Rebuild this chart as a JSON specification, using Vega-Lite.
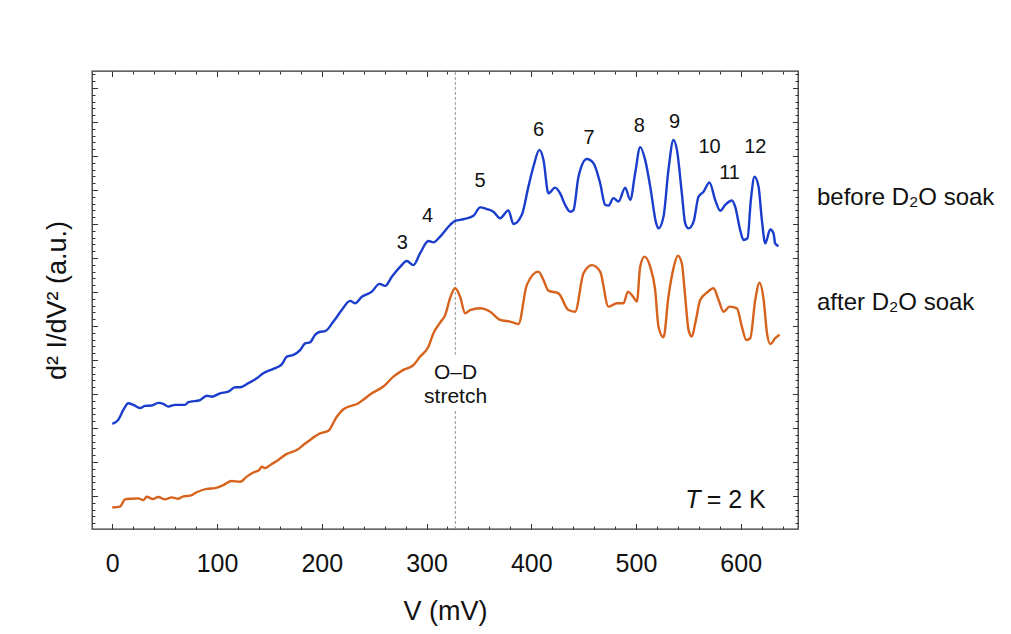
{
  "$schema": "https://vega.github.io/schema/vega-lite/v6.json",
  "width": 706,
  "height": 458,
  "autosize": "none",
  "padding": {"left": 92, "top": 71, "right": 213, "bottom": 105},
  "background": "white",
  "config": {
    "view": {"stroke": "#333", "strokeWidth": 1.3},
    "font": "Liberation Sans",
    "axis": {"grid": false, "domain": false, "tickColor": "#333", "tickWidth": 1, "labelFont": "Liberation Sans", "titleFont": "Liberation Sans", "labelColor": "#111", "titleColor": "#111", "titleFontWeight": "normal"}
  },
  "datasets": {
    "curves": [
      {"v":0,"s":3.12,"k":"before"},{"v":5.7,"s":3.24,"k":"before"},{"v":10.5,"s":3.53,"k":"before"},{"v":15.3,"s":3.73,"k":"before"},{"v":20.1,"s":3.68,"k":"before"},{"v":26.5,"s":3.59,"k":"before"},{"v":31.3,"s":3.65,"k":"before"},{"v":37.6,"s":3.66,"k":"before"},{"v":43.9,"s":3.74,"k":"before"},{"v":48.7,"s":3.71,"k":"before"},{"v":53.5,"s":3.63,"k":"before"},{"v":59.9,"s":3.68,"k":"before"},{"v":69.4,"s":3.68,"k":"before"},{"v":72.6,"s":3.76,"k":"before"},{"v":83.8,"s":3.82,"k":"before"},{"v":90.2,"s":3.95,"k":"before"},{"v":94.9,"s":3.92,"k":"before"},{"v":102.9,"s":4.02,"k":"before"},{"v":110.8,"s":4.07,"k":"before"},{"v":117.2,"s":4.2,"k":"before"},{"v":122.0,"s":4.2,"k":"before"},{"v":129.9,"s":4.32,"k":"before"},{"v":137.9,"s":4.46,"k":"before"},{"v":144.2,"s":4.61,"k":"before"},{"v":153.8,"s":4.74,"k":"before"},{"v":161.8,"s":4.87,"k":"before"},{"v":166.6,"s":5.10,"k":"before"},{"v":172.9,"s":5.15,"k":"before"},{"v":179.3,"s":5.29,"k":"before"},{"v":184.1,"s":5.49,"k":"before"},{"v":188.8,"s":5.52,"k":"before"},{"v":193.6,"s":5.74,"k":"before"},{"v":198.4,"s":5.83,"k":"before"},{"v":203.2,"s":5.85,"k":"before"},{"v":211.1,"s":6.13,"k":"before"},{"v":219.1,"s":6.47,"k":"before"},{"v":227.0,"s":6.74,"k":"before"},{"v":231.8,"s":6.67,"k":"before"},{"v":238.2,"s":6.86,"k":"before"},{"v":247.8,"s":7.01,"k":"before"},{"v":255.0,"s":7.24,"k":"before"},{"v":260.5,"s":7.18,"k":"before"},{"v":266.9,"s":7.45,"k":"before"},{"v":274.8,"s":7.74,"k":"before"},{"v":281.2,"s":7.91,"k":"before"},{"v":287.5,"s":7.79,"k":"before"},{"v":293.9,"s":8.14,"k":"before"},{"v":301.8,"s":8.50,"k":"before"},{"v":306.6,"s":8.46,"k":"before"},{"v":313.0,"s":8.63,"k":"before"},{"v":320.9,"s":8.92,"k":"before"},{"v":327.3,"s":9.09,"k":"before"},{"v":335.2,"s":9.14,"k":"before"},{"v":344.8,"s":9.24,"k":"before"},{"v":351.2,"s":9.49,"k":"before"},{"v":357.6,"s":9.44,"k":"before"},{"v":363.9,"s":9.36,"k":"before"},{"v":370.3,"s":9.17,"k":"before"},{"v":378.2,"s":9.40,"k":"before"},{"v":383.0,"s":9.00,"k":"before"},{"v":391.0,"s":9.27,"k":"before"},{"v":397.3,"s":10.10,"k":"before"},{"v":402.1,"s":10.69,"k":"before"},{"v":407.8,"s":11.18,"k":"before"},{"v":411.7,"s":10.88,"k":"before"},{"v":416.4,"s":9.90,"k":"before"},{"v":422.8,"s":10.07,"k":"before"},{"v":427.6,"s":9.90,"k":"before"},{"v":432.4,"s":9.56,"k":"before"},{"v":437.2,"s":9.36,"k":"before"},{"v":440.3,"s":9.41,"k":"before"},{"v":445.1,"s":10.39,"k":"before"},{"v":453.1,"s":10.91,"k":"before"},{"v":459.4,"s":10.79,"k":"before"},{"v":465.8,"s":10.20,"k":"before"},{"v":470.6,"s":9.56,"k":"before"},{"v":473.7,"s":9.54,"k":"before"},{"v":478.5,"s":9.76,"k":"before"},{"v":483.3,"s":9.66,"k":"before"},{"v":489.7,"s":10.07,"k":"before"},{"v":494.5,"s":9.71,"k":"before"},{"v":499.2,"s":10.49,"k":"before"},{"v":504.0,"s":11.26,"k":"before"},{"v":508.8,"s":10.88,"k":"before"},{"v":513.6,"s":10.10,"k":"before"},{"v":519.3,"s":9.02,"k":"before"},{"v":521.5,"s":8.87,"k":"before"},{"v":526.3,"s":9.22,"k":"before"},{"v":531.0,"s":10.59,"k":"before"},{"v":535.8,"s":11.47,"k":"before"},{"v":539.1,"s":11.18,"k":"before"},{"v":543.8,"s":9.90,"k":"before"},{"v":547.0,"s":9.02,"k":"before"},{"v":550.2,"s":8.87,"k":"before"},{"v":555.0,"s":9.07,"k":"before"},{"v":559.7,"s":9.80,"k":"before"},{"v":564.5,"s":9.95,"k":"before"},{"v":570.2,"s":10.22,"k":"before"},{"v":575.6,"s":9.71,"k":"before"},{"v":580.4,"s":9.39,"k":"before"},{"v":585.2,"s":9.56,"k":"before"},{"v":591.6,"s":9.69,"k":"before"},{"v":594.7,"s":9.51,"k":"before"},{"v":599.5,"s":8.82,"k":"before"},{"v":602.7,"s":8.53,"k":"before"},{"v":606.5,"s":8.58,"k":"before"},{"v":609.7,"s":9.71,"k":"before"},{"v":613.2,"s":10.39,"k":"before"},{"v":617.0,"s":10.10,"k":"before"},{"v":620.2,"s":9.12,"k":"before"},{"v":623.4,"s":8.43,"k":"before"},{"v":628.2,"s":8.84,"k":"before"},{"v":631.3,"s":8.73,"k":"before"},{"v":632.9,"s":8.43,"k":"before"},{"v":636.1,"s":8.35,"k":"before"},
      {"v":0,"s":0.66,"k":"after"},{"v":7.4,"s":0.69,"k":"after"},{"v":12.1,"s":0.90,"k":"after"},{"v":18.5,"s":0.92,"k":"after"},{"v":24.8,"s":0.93,"k":"after"},{"v":29.6,"s":0.88,"k":"after"},{"v":32.9,"s":0.98,"k":"after"},{"v":38.6,"s":0.91,"k":"after"},{"v":43.9,"s":0.97,"k":"after"},{"v":50.3,"s":0.90,"k":"after"},{"v":56.7,"s":0.96,"k":"after"},{"v":63.0,"s":0.92,"k":"after"},{"v":67.8,"s":0.99,"k":"after"},{"v":74.2,"s":1.01,"k":"after"},{"v":80.6,"s":1.11,"k":"after"},{"v":90.2,"s":1.21,"k":"after"},{"v":98.1,"s":1.23,"k":"after"},{"v":106.0,"s":1.32,"k":"after"},{"v":114.0,"s":1.44,"k":"after"},{"v":122.0,"s":1.42,"k":"after"},{"v":128.4,"s":1.57,"k":"after"},{"v":134.7,"s":1.69,"k":"after"},{"v":140.4,"s":1.77,"k":"after"},{"v":142.7,"s":1.86,"k":"after"},{"v":145.8,"s":1.82,"k":"after"},{"v":152.2,"s":1.94,"k":"after"},{"v":158.5,"s":2.06,"k":"after"},{"v":166.6,"s":2.24,"k":"after"},{"v":176.1,"s":2.35,"k":"after"},{"v":182.4,"s":2.50,"k":"after"},{"v":188.8,"s":2.65,"k":"after"},{"v":198.4,"s":2.84,"k":"after"},{"v":206.3,"s":2.92,"k":"after"},{"v":214.3,"s":3.33,"k":"after"},{"v":220.6,"s":3.55,"k":"after"},{"v":235.0,"s":3.73,"k":"after"},{"v":247.8,"s":4.02,"k":"after"},{"v":258.8,"s":4.22,"k":"after"},{"v":268.4,"s":4.51,"k":"after"},{"v":277.9,"s":4.71,"k":"after"},{"v":287.5,"s":4.85,"k":"after"},{"v":293.9,"s":5.10,"k":"after"},{"v":301.8,"s":5.39,"k":"after"},{"v":306.6,"s":5.79,"k":"after"},{"v":313.0,"s":6.10,"k":"after"},{"v":317.8,"s":6.32,"k":"after"},{"v":322.5,"s":6.82,"k":"after"},{"v":327.3,"s":7.11,"k":"after"},{"v":332.1,"s":6.86,"k":"after"},{"v":336.9,"s":6.37,"k":"after"},{"v":341.6,"s":6.47,"k":"after"},{"v":351.2,"s":6.52,"k":"after"},{"v":360.8,"s":6.42,"k":"after"},{"v":370.3,"s":6.18,"k":"after"},{"v":379.8,"s":6.13,"k":"after"},{"v":387.8,"s":6.06,"k":"after"},{"v":395.8,"s":7.21,"k":"after"},{"v":406.9,"s":7.60,"k":"after"},{"v":411.7,"s":7.35,"k":"after"},{"v":416.4,"s":7.04,"k":"after"},{"v":426.0,"s":6.96,"k":"after"},{"v":435.5,"s":6.47,"k":"after"},{"v":441.9,"s":6.42,"k":"after"},{"v":449.9,"s":7.55,"k":"after"},{"v":457.9,"s":7.79,"k":"after"},{"v":465.8,"s":7.60,"k":"after"},{"v":473.7,"s":6.57,"k":"after"},{"v":481.8,"s":6.67,"k":"after"},{"v":488.1,"s":6.67,"k":"after"},{"v":492.3,"s":7.01,"k":"after"},{"v":496.1,"s":6.91,"k":"after"},{"v":500.9,"s":6.72,"k":"after"},{"v":504.0,"s":7.74,"k":"after"},{"v":508.1,"s":8.04,"k":"after"},{"v":513.6,"s":7.74,"k":"after"},{"v":518.3,"s":7.06,"k":"after"},{"v":521.5,"s":5.98,"k":"after"},{"v":526.3,"s":5.67,"k":"after"},{"v":531.0,"s":6.86,"k":"after"},{"v":535.8,"s":7.70,"k":"after"},{"v":540.0,"s":8.07,"k":"after"},{"v":543.8,"s":7.84,"k":"after"},{"v":547.0,"s":6.86,"k":"after"},{"v":550.2,"s":5.88,"k":"after"},{"v":553.4,"s":5.69,"k":"after"},{"v":556.6,"s":6.08,"k":"after"},{"v":561.4,"s":6.77,"k":"after"},{"v":567.7,"s":6.98,"k":"after"},{"v":574.1,"s":7.11,"k":"after"},{"v":578.8,"s":6.77,"k":"after"},{"v":583.6,"s":6.42,"k":"after"},{"v":589.3,"s":6.57,"k":"after"},{"v":596.4,"s":6.52,"k":"after"},{"v":601.1,"s":5.98,"k":"after"},{"v":605.3,"s":5.59,"k":"after"},{"v":609.1,"s":5.64,"k":"after"},{"v":613.9,"s":6.77,"k":"after"},{"v":618.0,"s":7.27,"k":"after"},{"v":621.9,"s":6.77,"k":"after"},{"v":625.1,"s":5.79,"k":"after"},{"v":628.2,"s":5.47,"k":"after"},{"v":633.0,"s":5.64,"k":"after"},{"v":637.1,"s":5.74,"k":"after"}
    ],
    "marker": [
      {"v": 327.5, "a": 5.15, "b": 13.5},
      {"v": 327.5, "a": 0.03, "b": 3.5}
    ],
    "peaks": [
      {"v":277.0,"s":8.43,"t":"3"},{"v":300.9,"s":9.24,"t":"4"},{"v":351.2,"s":10.27,"t":"5"},{"v":406.9,"s":11.76,"t":"6"},{"v":455.3,"s":11.54,"t":"7"},{"v":503.3,"s":11.88,"t":"8"},{"v":536.8,"s":12.01,"t":"9"},{"v":570.2,"s":11.26,"t":"10"},{"v":589.3,"s":10.49,"t":"11"},{"v":613.9,"s":11.26,"t":"12"}
    ],
    "od": [
      {"v":327.8,"s":4.61,"t":"O–D"},{"v":327.8,"s":3.92,"t":"stretch"}
    ],
    "series": [
      {"v":672.8,"s":9.56,"t":"before D₂O soak"},{"v":672.8,"s":6.47,"t":"after D₂O soak"}
    ],
    "temp": [
      {"v":547.0,"s":0.656,"t":"T"}
    ],
    "temp2": [
      {"v":567.5,"s":0.656,"t":"= 2 K"}
    ]
  },
  "layer": [
    {
      "data": {"name": "marker"},
      "mark": {"type": "rule", "color": "#777", "strokeWidth": 0.8, "strokeDash": [3, 2]},
      "encoding": {
        "x": {"field": "v", "type": "quantitative", "scale": {"domain": [-19.4, 654.7], "nice": false, "zero": false},
              "axis": {"orient": "bottom", "values": [0,100,200,300,400,500,600], "ticks": false, "labelFontSize": 25, "labelPadding": 22, "title": "V (mV)", "titleFontSize": 27, "titlePadding": 22}},
        "y": {"field": "a", "type": "quantitative", "scale": {"domain": [0.0294, 13.5], "nice": false, "zero": false},
              "axis": {"orient": "left", "values": [1,2,3,4,5,6,7,8,9,10,11,12,13], "labels": false, "tickSize": -5.5, "title": "d² I/dV² (a.u.)", "titleFontSize": 27, "titlePadding": 20}},
        "y2": {"field": "b"}
      }
    },
    {
      "data": {"name": "curves"},
      "mark": {"type": "line", "strokeWidth": 2.4, "interpolate": "monotone"},
      "encoding": {
        "x": {"field": "v", "type": "quantitative", "scale": {"domain": [-19.4, 654.7], "nice": false, "zero": false},
              "axis": {"orient": "bottom", "values": [0,100,200,300,400,500,600], "labels": false, "tickSize": -5.5, "title": null}},
        "y": {"field": "s", "type": "quantitative", "scale": {"domain": [0.0294, 13.5], "nice": false, "zero": false},
              "axis": {"orient": "left", "values": [0.2,0.4,0.6,0.8,1.2,1.4,1.6,1.8,2.2,2.4,2.6,2.8,3.2,3.4,3.6,3.8,4.2,4.4,4.6,4.8,5.2,5.4,5.6,5.8,6.2,6.4,6.6,6.8,7.2,7.4,7.6,7.8,8.2,8.4,8.6,8.8,9.2,9.4,9.6,9.8,10.2,10.4,10.6,10.8,11.2,11.4,11.6,11.8,12.2,12.4,12.6,12.8,13.2,13.4], "labels": false, "tickSize": -3, "title": null}},
        "color": {"field": "k", "type": "nominal", "scale": {"domain": ["before", "after"], "range": ["#1a3dcc", "#d6621c"]}, "legend": null}
      }
    },
    {
      "data": {"name": "peaks"},
      "mark": {"type": "text", "fontSize": 20, "align": "center", "baseline": "middle", "color": "#111", "font": "Liberation Sans"},
      "encoding": {
        "x": {"field": "v", "type": "quantitative", "scale": {"domain": [-19.4, 654.7], "nice": false, "zero": false},
              "axis": {"orient": "bottom", "values": [20,40,60,80,120,140,160,180,220,240,260,280,320,340,360,380,420,440,460,480,520,540,560,580,620,640], "labels": false, "tickSize": -3, "title": null}},
        "y": {"field": "s", "type": "quantitative", "scale": {"domain": [0.0294, 13.5], "nice": false, "zero": false},
              "axis": {"orient": "right", "values": [1,2,3,4,5,6,7,8,9,10,11,12,13], "labels": false, "tickSize": -5.5, "title": null}},
        "text": {"field": "t"}
      }
    },
    {
      "data": {"name": "od"},
      "mark": {"type": "text", "fontSize": 21, "align": "center", "baseline": "middle", "color": "#111", "font": "Liberation Sans"},
      "encoding": {
        "x": {"field": "v", "type": "quantitative", "scale": {"domain": [-19.4, 654.7], "nice": false, "zero": false},
              "axis": {"orient": "top", "values": [0,100,200,300,400,500,600], "labels": false, "tickSize": -5.5, "title": null}},
        "y": {"field": "s", "type": "quantitative", "scale": {"domain": [0.0294, 13.5], "nice": false, "zero": false},
              "axis": {"orient": "right", "values": [0.2,0.4,0.6,0.8,1.2,1.4,1.6,1.8,2.2,2.4,2.6,2.8,3.2,3.4,3.6,3.8,4.2,4.4,4.6,4.8,5.2,5.4,5.6,5.8,6.2,6.4,6.6,6.8,7.2,7.4,7.6,7.8,8.2,8.4,8.6,8.8,9.2,9.4,9.6,9.8,10.2,10.4,10.6,10.8,11.2,11.4,11.6,11.8,12.2,12.4,12.6,12.8,13.2,13.4], "labels": false, "tickSize": -3, "title": null}},
        "text": {"field": "t"}
      }
    },
    {
      "data": {"name": "series"},
      "mark": {"type": "text", "fontSize": 24, "align": "left", "baseline": "alphabetic", "color": "#111", "font": "Liberation Sans"},
      "encoding": {
        "x": {"field": "v", "type": "quantitative", "scale": {"domain": [-19.4, 654.7], "nice": false, "zero": false},
              "axis": {"orient": "top", "values": [20,40,60,80,120,140,160,180,220,240,260,280,320,340,360,380,420,440,460,480,520,540,560,580,620,640], "labels": false, "tickSize": -3, "title": null}},
        "y": {"field": "s", "type": "quantitative", "scale": {"domain": [0.0294, 13.5], "nice": false, "zero": false}, "axis": null},
        "text": {"field": "t"}
      }
    },
    {
      "data": {"name": "temp"},
      "mark": {"type": "text", "fontSize": 25, "fontStyle": "italic", "align": "left", "baseline": "alphabetic", "color": "#111", "font": "Liberation Sans"},
      "encoding": {
        "x": {"field": "v", "type": "quantitative", "scale": {"domain": [-19.4, 654.7], "nice": false, "zero": false}, "axis": null},
        "y": {"field": "s", "type": "quantitative", "scale": {"domain": [0.0294, 13.5], "nice": false, "zero": false}, "axis": null},
        "text": {"field": "t"}
      }
    },
    {
      "data": {"name": "temp2"},
      "mark": {"type": "text", "fontSize": 25, "align": "left", "baseline": "alphabetic", "color": "#111", "font": "Liberation Sans"},
      "encoding": {
        "x": {"field": "v", "type": "quantitative", "scale": {"domain": [-19.4, 654.7], "nice": false, "zero": false}, "axis": null},
        "y": {"field": "s", "type": "quantitative", "scale": {"domain": [0.0294, 13.5], "nice": false, "zero": false}, "axis": null},
        "text": {"field": "t"}
      }
    }
  ],
  "resolve": {"axis": {"x": "independent", "y": "independent"}}
}
